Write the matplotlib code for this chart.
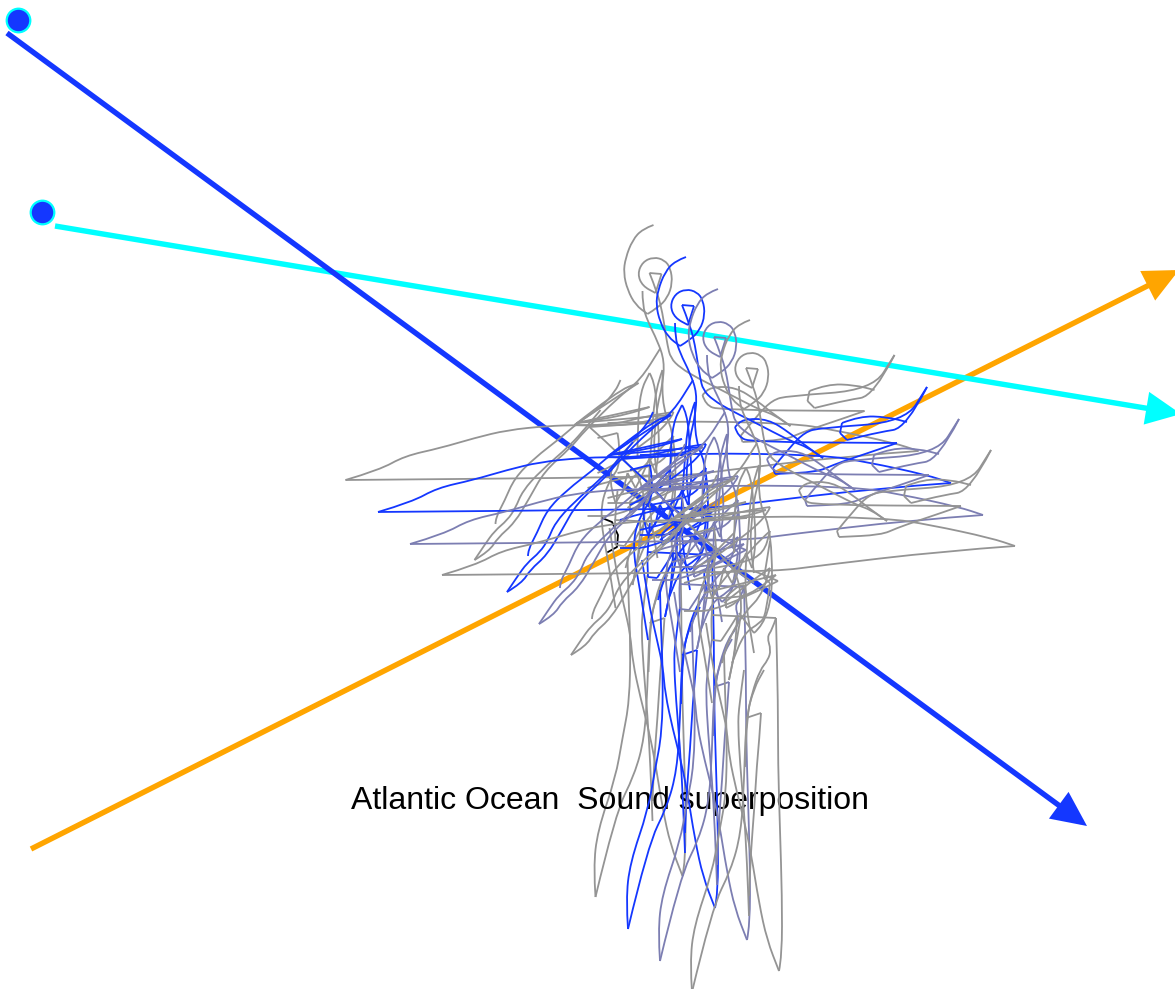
import math
import matplotlib
matplotlib.use("Agg")
import matplotlib.pyplot as plt
from matplotlib.path import Path
from matplotlib.patches import PathPatch

# outline of one trace (blue copy)
spiral = [(686,257),(675,261),(665,272),(658,290),(656,305),(660,322),(668,337),(680,346),(690,340),(700,330),(705,315),(703,300),(697,292),(686,289),(675,294),(670,306),(675,318),(688,325),(694,306),(682,305),(690,325),(695,345),(698,365),(700,377),(703,390),(713,400),(730,410),(750,420),(773,432),(793,442),(807,447),(823,458)]
stem = [(675,323),(675,337),(680,353),(690,373),(697,393),(695,417),(690,437),(688,455),(686,480),(690,510)]
right_loop = [(823,458),(807,447),(790,433),(768,419),(743,419),(735,427),(738,437),(752,442),(897,443),(877,450),(853,458),(833,465),(817,472),(775,474),(773,468),(790,447),(805,432),(820,428),(905,422),(927,387),(906,428),(880,432),(847,440),(840,433),(842,423),(860,416),(887,417),(907,422)]
long_arm = [(640,455),(700,453),(823,455),(867,462),(927,475),(951,483),(880,488),(752,503),(716,508),(600,510),(378,512),(412,502),(437,488),(473,480),(507,470),(540,462),(580,458),(610,457),(640,458),(683,455)]
leaf_a = [(507,592),(517,577),(527,563),(540,552),(548,540),(555,523),(573,503),(603,477),(618,460),(633,442)]
leaf_b = [(507,592),(522,583),(530,570),(547,555),(562,530),(577,503),(603,480),(617,463),(650,430),(673,412),(693,380)]
leaf_c = [(528,556),(528,550),(537,533),(547,510),(567,490),(593,470),(610,455),(633,440),(648,423),(653,412)]
core_a = [(607,457),(650,423),(671,415),(640,435),(607,457),(640,458),(680,448),(706,444),(704,450),(690,465),(670,480),(650,495),(630,505)]
core_b = [(609,455),(682,439),(660,447),(609,455),(702,447),(680,455),(622,459),(640,475),(655,490),(668,505),(690,520)]
core_c = [(670,490),(670,460),(673,423),(682,405),(687,413),(690,447),(692,480),(688,505),(682,490),(676,505),(668,520),(660,505),(655,525)]
core_d = [(650,523),(647,550),(648,577),(657,578),(667,563),(673,553),(672,583),(665,617),(677,560),(677,530),(672,510),(664,500)]
core_e = [(647,552),(712,555),(708,567),(703,574),(707,587),(704,597),(696,607),(688,630),(683,654),(681,704)]
core_f = [(650,505),(680,500),(700,490),(706,468),(695,478),(680,495),(660,515),(648,535),(640,510),(650,490),(670,470)]
core_g = [(660,540),(685,520),(706,505),(700,530),(680,550),(665,575),(658,600)]
core_h = [(640,530),(680,520),(712,512),(690,530),(670,535),(640,535)]
core_i = [(675,550),(690,570),(708,555),(708,470),(695,440),(695,402),(688,420),(684,470),(680,530),(690,590)]
core_j = [(620,520),(676,502),(714,518),(655,548),(620,548)]
core_k = [(662,534),(672,524),(680,522),(682,530),(672,540),(662,545),(662,534)]
core_l = [(630,470),(650,465),(655,495),(640,515),(632,545),(640,590),(648,640)]
core_m = [(706,478),(700,515),(706,520),(702,552),(696,560),(680,570),(668,600)]
drop_a = [(642,560),(648,600),(657,640),(663,667),(665,693),(673,730),(680,757),(687,790),(695,840),(703,877),(715,908),(718,893),(718,833),(716,767),(714,700),(714,640),(712,555)]
drop_b = [(680,607),(675,643),(674,663),(676,700),(680,747),(683,800),(685,853)]
drop_c = [(628,929),(626,900),(630,863),(648,810),(655,770),(662,733),(663,677),(661,630),(660,590)]
drop_d = [(628,929),(648,845),(667,807),(677,770),(680,720),(682,655),(690,625),(700,607)]
drop_e = [(682,655),(697,650),(695,680),(693,700),(690,750),(687,787),(685,833)]
bracket = [(602,518),(612,522),(618,535),(617,547),(608,552)]

trace_parts = [spiral, stem, right_loop, long_arm, leaf_a, leaf_b, leaf_c, core_a, core_b, core_c,
               core_d, core_e, core_f, core_g, core_h, core_i, core_j, core_k, core_l, core_m,
               drop_a, drop_b, drop_c, drop_d, drop_e]

copy_dx = [-32.5, 0, 32, 64]
copy_dy = [-32, 0, 32, 63]
copy_colors = ["#949494", "#1437FF", "#7C7EB2", "#949494"]

title = "Atlantic Ocean  Sound superposition"
arrow_blue = [(7,33),(1087,826)]
arrow_cyan = [(55,226),(1181,414)]
arrow_orange = [(31,849),(1179,270)]
dots = [(18,20),(42,212)]


def split_at_tips(pts):
    """Break a list of points where it turns sharply, so tips stay pointed."""
    runs, cur = [], [pts[0]]
    for i in range(1, len(pts) - 1):
        cur.append(pts[i])
        a = math.atan2(pts[i][1] - pts[i-1][1], pts[i][0] - pts[i-1][0])
        b = math.atan2(pts[i+1][1] - pts[i][1], pts[i+1][0] - pts[i][0])
        turn = abs((b - a + math.pi) % (2 * math.pi) - math.pi)
        if turn > math.radians(55):
            runs.append(cur)
            cur = [pts[i]]
    cur.append(pts[-1])
    runs.append(cur)
    return runs


def smooth_path(pts):
    verts, codes = [pts[0]], [Path.MOVETO]
    for i in range(1, len(pts) - 1):
        mid = ((pts[i][0] + pts[i+1][0]) / 2, (pts[i][1] + pts[i+1][1]) / 2)
        verts += [pts[i], mid]
        codes += [Path.CURVE3, Path.CURVE3]
    verts.append(pts[-1])
    codes.append(Path.LINETO)
    return Path(verts, codes)


fig = plt.figure(figsize=(11.75, 9.89), dpi=100)
ax = fig.add_axes([0, 0, 1, 1])
ax.set_xlim(0, 1175)
ax.set_ylim(989, 0)
ax.axis("off")

for (start, end), col in zip((arrow_orange, arrow_cyan, arrow_blue), ("#FFA500", "#00FFFF", "#1437FF")):
    ax.annotate("", xy=end, xytext=start, zorder=2, annotation_clip=False,
                arrowprops=dict(arrowstyle="-|>,head_length=0.72,head_width=0.34", mutation_scale=26,
                                lw=3.9, color=col, shrinkA=0, shrinkB=0, joinstyle="miter", capstyle="butt"))

for (x, y) in dots:
    ax.plot([x], [y], "o", ms=17, mfc="#1437FF", mec="#00FFFF", mew=1.6, zorder=3)

ax.plot(*zip(*bracket), color="black", lw=1.3, zorder=3)

for k, (dx, dy, col) in enumerate(zip(copy_dx, copy_dy, copy_colors)):
    for part in trace_parts:
        shifted = [(p[0] + dx, p[1] + dy) for p in part]
        for run in split_at_tips(shifted):
            ax.add_patch(PathPatch(smooth_path(run), fc="none", ec=col, lw=1.3, zorder=4 + k))

ax.text(610, 801, title, ha="center", va="center", fontsize=23,
        family=["Liberation Sans", "DejaVu Sans"], color="black", zorder=4.5)

fig.savefig("out.png", dpi=100)
